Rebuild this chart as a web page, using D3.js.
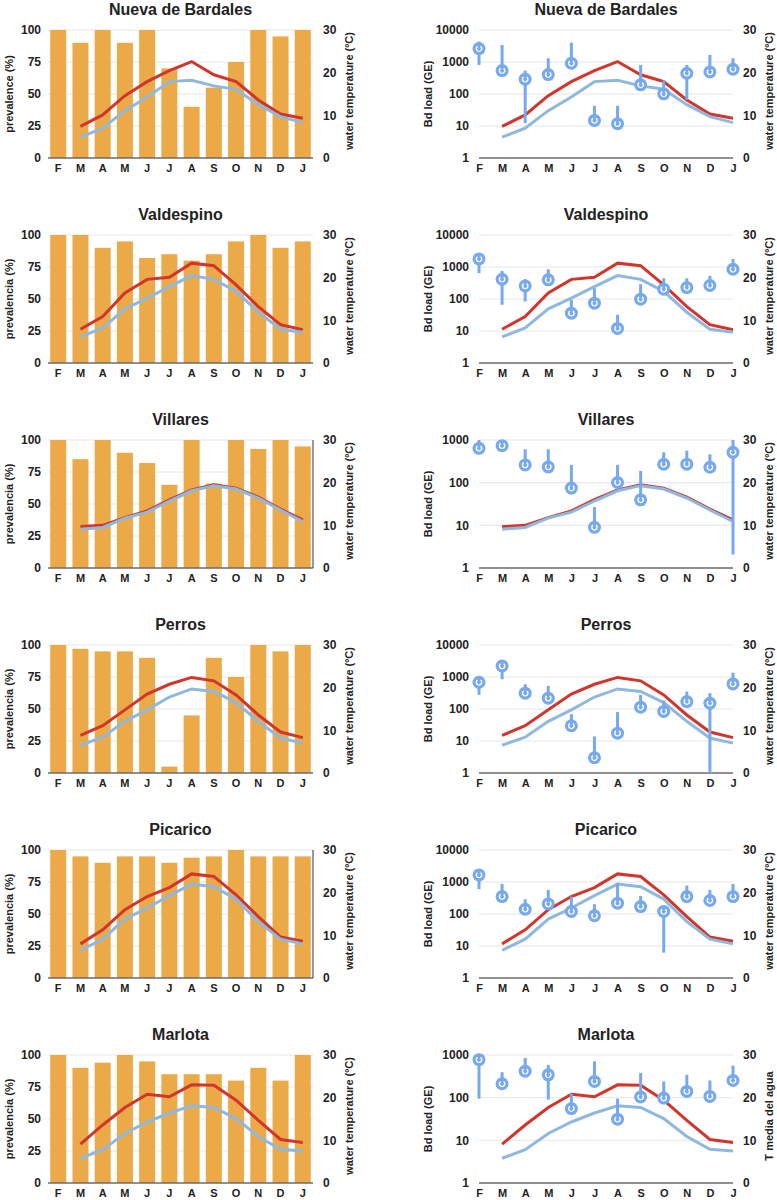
<!DOCTYPE html>
<html>
<head>
<meta charset="utf-8">
<script src="https://cdn.jsdelivr.net/npm/d3@7"></script>
<style>
  body { margin: 0; background: #fff; }
  text { font-family: "Liberation Sans", Arial, sans-serif; font-weight: bold; fill: #222; }
</style>
</head>
<body>
<div id="chart"></div>
<script>
var months = ["F","M","A","M","J","J","A","S","O","N","D","J"];
var siteNames = ["Nueva de Bardales","Valdespino","Villares","Perros","Picarico","Marlota"];
var prevTitles = ["prevalence (%)","prevalencia (%)","prevalencia (%)","prevalencia (%)","prevalencia (%)","prevalencia (%)"];
var tempTitles = ["water temperature (ºC)","water temperature (ºC)","water temperature (ºC)","water temperature (ºC)","water temperature (ºC)","T media del agua"];
var loadMax = [10000, 10000, 1000, 10000, 10000, 1000];
var prevTicks = [0, 25, 50, 75, 100];
var tempTicks = [0, 10, 20, 30];

// prevalence (%) per month
var prevNueva      = [100, 90, 100, 90, 100, 70, 40, 55, 75, 100, 95, 100];
var prevValdespino = [100, 100, 90, 95, 82, 85, 80, 85, 95, 100, 90, 95];
var prevVillares   = [100, 85, 100, 90, 82, 65, 100, 66, 100, 93, 100, 95];
var prevPerros     = [100, 97, 95, 95, 90, 5, 45, 90, 75, 100, 95, 100];
var prevPicarico   = [100, 95, 90, 95, 95, 90, 94, 95, 100, 95, 95, 95];
var prevMarlota    = [100, 90, 94, 100, 95, 85, 85, 85, 80, 90, 80, 100];

// water temperature (red = maximum, blue = mean)
var tMaxNueva      = [null, 7.4, 10.1, 14.6, 17.9, 20.5, 22.6, 19.5, 17.9, 13.6, 10.3, 9.3];
var tMeanNueva     = [null, 4.9, 7.0, 11.1, 14.3, 17.9, 18.2, 16.9, 16.1, 12.5, 9.7, 8.3];
var tMaxValdespino = [null, 7.9, 10.9, 16.4, 19.6, 20.1, 23.4, 22.8, 18.3, 13.2, 9.0, 7.8];
var tMeanValdespino= [null, 6.1, 8.2, 12.7, 15.2, 17.9, 20.5, 19.6, 16.8, 11.9, 7.9, 7.2];
var tMaxVillares   = [null, 9.7, 10.0, 11.8, 13.4, 16.0, 18.3, 19.5, 18.7, 16.6, 13.8, 11.3];
var tMeanVillares  = [null, 9.1, 9.5, 11.7, 13.1, 15.7, 18.1, 19.3, 18.5, 16.4, 13.6, 10.9];
var tMaxPerros     = [null, 8.8, 11.1, 14.8, 18.5, 20.8, 22.4, 21.6, 18.3, 13.6, 9.6, 8.3];
var tMeanPerros    = [null, 6.5, 8.4, 12.1, 14.8, 17.8, 19.7, 19.1, 16.5, 12.1, 8.2, 7.0];
var tMaxPicarico   = [null, 8.0, 11.3, 16.0, 19.1, 21.2, 24.4, 23.8, 19.5, 14.4, 9.6, 8.6];
var tMeanPicarico  = [null, 6.5, 9.1, 13.8, 16.4, 19.3, 22.0, 21.4, 18.5, 13.2, 9.1, 8.0];
var tMaxMarlota    = [null, 9.1, 13.6, 17.7, 20.8, 20.2, 23.0, 22.9, 19.4, 14.7, 10.2, 9.5];
var tMeanMarlota   = [null, 5.8, 7.8, 11.6, 14.3, 16.4, 18.1, 17.7, 15.1, 10.9, 7.9, 7.5];

// Bd load (GE): value, lower and upper ends of the error bar
var loadNueva   = [2620, 540, 290, 405, 914, 14.9, 11.8, 193, 101, 446, 491, 594];
var loLNueva    = [811, 540, 12.3, 405, 914, 14.9, 11.8, 193, 101, 65.8, 491, 594];
var hiLNueva    = [4330, 3400, 540, 1310, 4030, 42.8, 42.8, 811, 264, 811, 1660, 1310];
var loadValdespino = [1786, 415, 257, 396, 36, 74, 12, 99, 203, 228, 264, 851];
var loLValdespino  = [638, 66, 84, 396, 36, 74, 12, 99, 203, 228, 264, 851];
var hiLValdespino  = [2300, 755, 415, 851, 94, 218, 32, 290, 446, 446, 527, 1786];
var loadVillares = [639, 738, 261, 234, 74.5, 9.0, 101, 39.7, 270, 272, 230, 515];
var loLVillares  = [639, 738, 261, 234, 74.5, 9.0, 101, 39.7, 270, 272, 230, 2.07];
var hiLVillares  = [1000, 738, 606, 606, 261, 26.8, 261, 189, 515, 564, 462, 1000];
var loadPerros = [686, 2215, 312, 218, 30, 3.0, 17.6, 114, 84, 171, 152, 609];
var loLPerros  = [277, 851, 312, 218, 30, 3.0, 17.6, 114, 84, 171, 1, 609];
var hiLPerros  = [686, 2215, 594, 527, 69, 13.9, 80, 277, 184, 351, 312, 1373];
var loadPicarico = [1663, 351, 141, 207, 120, 88, 218, 171, 120, 351, 264, 351];
var loLPicarico  = [594, 351, 141, 207, 120, 88, 218, 171, 6.2, 351, 264, 351];
var hiLPicarico  = [1663, 871, 290, 566, 351, 203, 914, 368, 120, 773, 566, 871];
var loadMarlota = [779, 212, 417, 343, 55.5, 240, 31.3, 104, 98, 140, 107, 253];
var loLMarlota  = [94.8, 212, 417, 90, 55.5, 240, 31.3, 104, 98, 140, 107, 253];
var hiLMarlota  = [779, 395, 851, 585, 124, 713, 94.8, 381, 240, 343, 253, 565];

var sites = [
  {prev: prevNueva, tMax: tMaxNueva, tMean: tMeanNueva, load: loadNueva, lo: loLNueva, hi: hiLNueva, edge: false},
  {prev: prevValdespino, tMax: tMaxValdespino, tMean: tMeanValdespino, load: loadValdespino, lo: loLValdespino, hi: hiLValdespino, edge: false},
  {prev: prevVillares, tMax: tMaxVillares, tMean: tMeanVillares, load: loadVillares, lo: loLVillares, hi: hiLVillares, edge: true},
  {prev: prevPerros, tMax: tMaxPerros, tMean: tMeanPerros, load: loadPerros, lo: loLPerros, hi: hiLPerros, edge: false},
  {prev: prevPicarico, tMax: tMaxPicarico, tMean: tMeanPicarico, load: loadPicarico, lo: loLPicarico, hi: hiLPicarico, edge: true},
  {prev: prevMarlota, tMax: tMaxMarlota, tMean: tMeanMarlota, load: loadMarlota, lo: loLMarlota, hi: hiLMarlota, edge: false}
];

var barColor = "#eca948",
    redColor = "#d1352b",
    blueLine = "#8fb8df",
    dotColor = "#76a9ee",
    gridColor = "#e6e6e6";

var svg = d3.select('#chart').append('svg')
  .attr('width', 777)
  .attr('height', 1200);

var firstTop = 30, rowStep = 205, plotH = 128;
var L = {x0: 48, x1: 313}, R = {x0: 479, x1: 733};

function styleAxis(g, size) {
  g.attr('font-family', null).attr('font-size', null);
  g.select('.domain').remove();
  g.selectAll('text').style('font-size', size + 'px');
}

function tempLine(x, yT, offset) {
  return d3.line()
    .defined(function(d) { return d != null; })
    .x(function(d, i) { return x(i) + offset; })
    .y(function(d) { return yT(d); });
}

sites.forEach(function(s, k) {
  var top = firstTop + k * rowStep,
      bottom = top + plotH;

  var yT = d3.scaleLinear().domain([0, 30]).range([bottom, top]);

  // ---------- left panel: prevalence bars + temperature ----------
  var xb = d3.scaleBand().domain(d3.range(12))
    .range([L.x0, L.x1]).paddingInner(0.28).paddingOuter(0.1);
  var yP = d3.scaleLinear().domain([0, 100]).range([bottom, top]);

  var gl = svg.append('g');

  gl.selectAll('line.grid').data(prevTicks.slice(1)).enter().append('line')
    .attr('x1', L.x0).attr('x2', L.x1)
    .attr('y1', function(d) { return yP(d); })
    .attr('y2', function(d) { return yP(d); })
    .attr('stroke', gridColor).attr('stroke-width', 1);

  gl.selectAll('rect').data(s.prev).enter().append('rect')
    .attr('x', function(d, i) { return xb(i); })
    .attr('width', xb.bandwidth())
    .attr('y', function(d) { return yP(d); })
    .attr('height', function(d) { return bottom - yP(d); })
    .attr('fill', barColor);

  gl.append('line')
    .attr('x1', L.x0).attr('x2', L.x1).attr('y1', bottom).attr('y2', bottom)
    .attr('stroke', '#6b6b6b').attr('stroke-width', 1.5);
  if (s.edge) {
    gl.append('line')
      .attr('x1', L.x1).attr('x2', L.x1).attr('y1', top).attr('y2', bottom)
      .attr('stroke', '#333').attr('stroke-width', 1);
  }

  gl.append('path').datum(s.tMax)
    .attr('d', tempLine(xb, yT, xb.bandwidth() / 2))
    .attr('fill', 'none').attr('stroke', redColor).attr('stroke-width', 3);
  gl.append('path').datum(s.tMean)
    .attr('d', tempLine(xb, yT, xb.bandwidth() / 2))
    .attr('fill', 'none').attr('stroke', blueLine).attr('stroke-width', 3);

  gl.append('g').attr('transform', 'translate(' + L.x0 + ',0)')
    .call(d3.axisLeft(yP).tickValues(prevTicks).tickSize(0).tickPadding(7))
    .call(styleAxis, 12);
  gl.append('g').attr('transform', 'translate(' + L.x1 + ',0)')
    .call(d3.axisRight(yT).tickValues(tempTicks).tickSize(0).tickPadding(10))
    .call(styleAxis, 12);
  gl.append('g').attr('transform', 'translate(0,' + bottom + ')')
    .call(d3.axisBottom(xb).tickFormat(function(i) { return months[i]; }).tickSize(0).tickPadding(6))
    .call(styleAxis, 11);

  gl.append('text')
    .attr('x', (L.x0 + L.x1) / 2).attr('y', top - 15)
    .attr('text-anchor', 'middle').style('font-size', '16px')
    .text(siteNames[k]);
  gl.append('text')
    .attr('transform', 'translate(13,' + (top + plotH / 2) + ') rotate(-90)')
    .attr('text-anchor', 'middle').style('font-size', '11px')
    .text(prevTitles[k]);
  gl.append('text')
    .attr('transform', 'translate(353,' + (top + plotH / 2 - 3) + ') rotate(-90)')
    .attr('text-anchor', 'middle').style('font-size', '11px')
    .text('water temperature (ºC)');

  // ---------- right panel: Bd load (log) + temperature ----------
  var xp = d3.scalePoint().domain(d3.range(12)).range([R.x0, R.x1]);
  var yL = d3.scaleLog().domain([1, loadMax[k]]).range([bottom, top]);
  var logTicks = [1, 10, 100, 1000, 10000].filter(function(v) { return v <= loadMax[k]; });

  var gr = svg.append('g');

  gr.selectAll('line.grid').data(logTicks.slice(1)).enter().append('line')
    .attr('x1', R.x0).attr('x2', R.x1)
    .attr('y1', function(d) { return yL(d); })
    .attr('y2', function(d) { return yL(d); })
    .attr('stroke', gridColor).attr('stroke-width', 1);
  gr.append('line')
    .attr('x1', R.x0).attr('x2', R.x1).attr('y1', bottom).attr('y2', bottom)
    .attr('stroke', '#6b6b6b').attr('stroke-width', 1.5);

  gr.append('path').datum(s.tMax)
    .attr('d', tempLine(xp, yT, 0))
    .attr('fill', 'none').attr('stroke', redColor).attr('stroke-width', 3);
  gr.append('path').datum(s.tMean)
    .attr('d', tempLine(xp, yT, 0))
    .attr('fill', 'none').attr('stroke', blueLine).attr('stroke-width', 3);

  var pts = gr.selectAll('g.pt').data(s.load).enter().append('g')
    .attr('class', 'pt');
  pts.append('line')
    .attr('x1', function(d, i) { return xp(i); })
    .attr('x2', function(d, i) { return xp(i); })
    .attr('y1', function(d, i) { return yL(s.lo[i]); })
    .attr('y2', function(d, i) { return yL(s.hi[i]); })
    .attr('stroke', dotColor).attr('stroke-width', 3);
  pts.append('circle')
    .attr('cx', function(d, i) { return xp(i); })
    .attr('cy', function(d) { return yL(d); })
    .attr('r', 6.5)
    .attr('fill', dotColor);
  pts.append('path')
    .attr('transform', function(d, i) { return 'translate(' + xp(i) + ',' + yL(d) + ')'; })
    .attr('d', d3.arc().innerRadius(2).outerRadius(3.4).startAngle(0.6).endAngle(2 * Math.PI - 0.6)())
    .attr('fill', '#fff');

  gr.append('g').attr('transform', 'translate(' + R.x0 + ',0)')
    .call(d3.axisLeft(yL).tickValues(logTicks).tickFormat(d3.format('d')).tickSize(0).tickPadding(10))
    .call(styleAxis, 12);
  gr.append('g').attr('transform', 'translate(' + R.x1 + ',0)')
    .call(d3.axisRight(yT).tickValues(tempTicks).tickSize(0).tickPadding(10))
    .call(styleAxis, 12);
  gr.append('g').attr('transform', 'translate(0,' + bottom + ')')
    .call(d3.axisBottom(xp).tickFormat(function(i) { return months[i]; }).tickSize(0).tickPadding(6))
    .call(styleAxis, 11);

  gr.append('text')
    .attr('x', (R.x0 + R.x1) / 2).attr('y', top - 15)
    .attr('text-anchor', 'middle').style('font-size', '16px')
    .text(siteNames[k]);
  gr.append('text')
    .attr('transform', 'translate(432,' + (top + plotH / 2) + ') rotate(-90)')
    .attr('text-anchor', 'middle').style('font-size', '11px')
    .text('Bd load (GE)');
  gr.append('text')
    .attr('transform', 'translate(773,' + (top + plotH / 2 - 3) + ') rotate(-90)')
    .attr('text-anchor', 'middle').style('font-size', '11px')
    .text(tempTitles[k]);
});
</script>
</body>
</html>
